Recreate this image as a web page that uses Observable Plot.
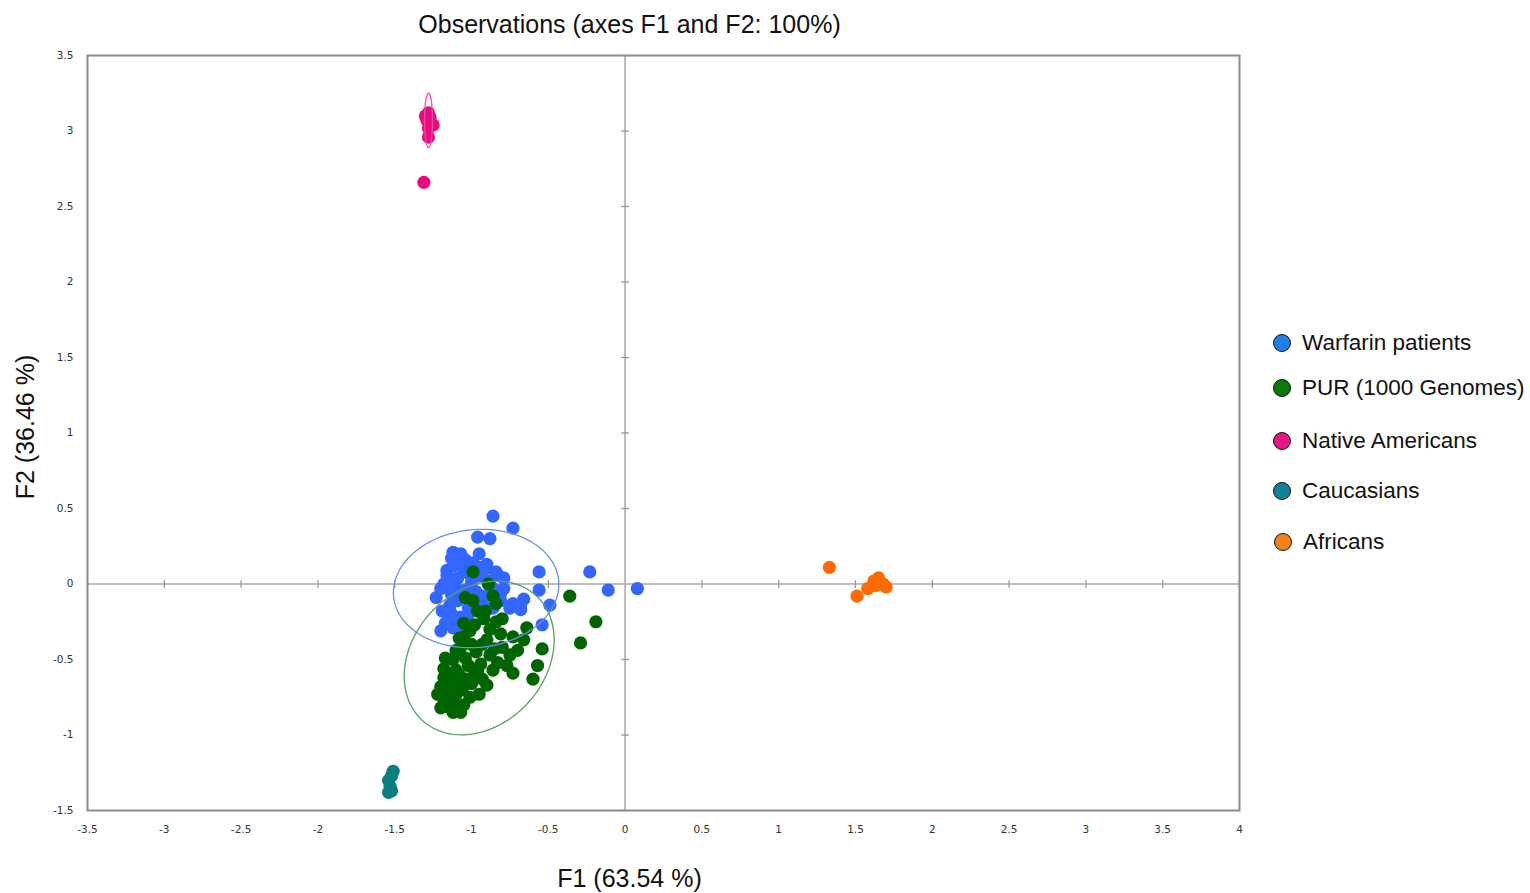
<!DOCTYPE html>
<html><head><meta charset="utf-8">
<script src="https://cdn.jsdelivr.net/npm/d3@7"></script>
<script src="https://cdn.jsdelivr.net/npm/@observablehq/plot@0.6"></script>
<style>
body{margin:0;background:#fff;font-family:"Liberation Sans",Arial,sans-serif;}
#wrap{position:relative;width:1530px;height:893px;overflow:hidden;}
#chart{position:absolute;left:0;top:0;}
.item{position:absolute;display:flex;align-items:center;white-space:nowrap;font-size:22.5px;color:#111;line-height:1;}
.sw{width:18px;height:18px;border-radius:50%;border:1.6px solid #111;box-sizing:border-box;margin-right:11px;flex:none;}
</style>
</head><body>
<div id="wrap"><div id="chart"></div><div id="legend"></div></div>
<script>
// ---- data ----
const groups = ["Warfarin patients","PUR (1000 Genomes)","Native Americans","Caucasians","Africans"];
const pointColors = ["#3366ff","#006400","#ea0a80","#0b7f80","#ff6a00"];
const legendColors = ["#1f7fe6","#0a7a0a","#e3197f","#13809a","#f7801e"];

const warfarin = [
  [-0.86,0.45],[-0.73,0.37],[-0.96,0.31],[-0.88,0.30],[-1.12,0.21],[-1.07,0.20],[-0.95,0.20],
  [-0.56,0.08],[-0.23,0.08],[-0.11,-0.04],[0.08,-0.03],[-0.56,-0.04],[-0.49,-0.14],[-0.54,-0.27],
  [-0.66,-0.10],[-1.23,-0.09],[-1.20,-0.31],[-0.79,-0.03],[-0.79,0.04],
  [-0.99,0.14],[-1.12,0.12],[-1.16,0.06],[-1.09,0.04],[-0.91,0.10],[-0.83,0.06],[-1.16,-0.01],
  [-0.81,-0.06],[-0.68,-0.14],[-1.14,-0.14],[-1.16,0.09],[-1.18,0.00],[-1.14,-0.18],[-1.17,-0.26],
  [-1.09,-0.11],[-0.94,0.11],[-0.90,0.13],[-0.84,0.08],[-0.88,0.02],[-0.73,-0.13],[-0.68,-0.17],
  [-0.75,-0.16],[-0.81,-0.11],[-1.07,-0.22],[-1.12,-0.29],[-1.19,-0.18],[-1.04,0.16],[-1.02,0.07],
  [-1.00,0.01],[-0.97,-0.05],[-1.04,-0.04],[-1.10,-0.03],[-0.92,-0.08],[-0.86,-0.16],[-1.02,-0.16],
  [-1.05,-0.27],[-1.13,0.17],[-1.08,0.13],[-1.05,0.10],[-1.12,0.02],[-1.06,-0.08],[-1.13,-0.07],
  [-1.20,-0.03],[-1.10,-0.22],[-1.02,-0.20],[-0.97,0.05],[-0.93,0.05],[-0.86,-0.03],[-0.92,-0.14],
  [-1.15,-0.25],[-1.08,-0.30]
];
const pur = [
  [-0.99,0.08],[-0.89,0.00],[-0.86,-0.08],[-0.84,-0.13],[-1.04,-0.09],[-0.99,-0.11],[-0.96,-0.18],
  [-0.36,-0.08],[-0.19,-0.25],[-0.29,-0.39],[-0.80,-0.23],[-0.88,-0.30],[-1.05,-0.26],[-0.64,-0.29],
  [-0.54,-0.43],[-0.57,-0.54],[-0.60,-0.63],[-0.73,-0.59],[-0.77,-0.54],[-0.66,-0.37],[-0.73,-0.35],
  [-0.80,-0.42],[-0.90,-0.37],[-0.94,-0.53],[-0.86,-0.57],[-1.05,-0.35],[-1.07,-0.42],[-1.17,-0.49],
  [-1.18,-0.56],[-1.10,-0.57],[-1.03,-0.63],[-1.22,-0.73],[-1.16,-0.69],[-1.20,-0.82],[-1.12,-0.85],
  [-1.07,-0.85],[-1.01,-0.75],[-0.95,-0.73],[-1.10,-0.73],[-1.09,-0.64],[-1.04,-0.49],[-0.97,-0.45],
  [-1.14,-0.82],[-1.16,-0.77],[-0.96,-0.57],[-0.91,-0.18],[-1.01,-0.31],[-1.10,-0.44],[-1.02,-0.54],
  [-1.06,-0.70],[-0.88,-0.47],[-0.81,-0.33],
  [-1.18,-0.62],[-1.14,-0.60],[-1.20,-0.68],[-1.13,-0.66],[-1.08,-0.60],[-1.00,-0.66],[-0.98,-0.60],
  [-1.12,-0.78],[-1.05,-0.80],[-1.18,-0.77],[-0.93,-0.63],[-0.90,-0.67],[-1.00,-0.40],[-0.93,-0.40],
  [-0.85,-0.43],[-0.83,-0.52],[-0.75,-0.47],[-0.70,-0.44],[-0.98,-0.27],[-0.92,-0.23],[-0.84,-0.25],
  [-1.08,-0.36],[-1.12,-0.50]
];
const nativeAmericans = [
  [-1.31,2.66],[-1.28,3.12],[-1.30,3.10],[-1.29,3.07],[-1.25,3.04],[-1.28,3.02],[-1.28,2.96],[-1.27,3.09]
];
const caucasians = [
  [-1.51,-1.24],[-1.52,-1.27],[-1.54,-1.30],[-1.53,-1.34],[-1.52,-1.37],[-1.54,-1.38]
];
const africans = [
  [1.33,0.11],[1.51,-0.08],[1.63,-0.01],[1.68,0.00],[1.62,0.02],[1.70,-0.02],[1.58,-0.03],[1.65,0.04]
];
// confidence ellipses: centre, semi-axes (F1/F2 units), rotation (degrees)
const ellipses = [
  {group:"Warfarin patients", cx:-0.97, cy:-0.03, rx:0.54, ry:0.39, angle:6, color:"#6d8ff2"},
  {group:"PUR (1000 Genomes)", cx:-0.95, cy:-0.49, rx:0.555, ry:0.435, angle:50, color:"#5a9f66"},
  {group:"Native Americans", cx:-1.28, cy:3.07, rx:0.18, ry:0.026, angle:90, color:"#ec4f9a"}
];
const xTicks = [-3.5,-3,-2.5,-2,-1.5,-1,-0.5,0,0.5,1,1.5,2,2.5,3,3.5,4];
const yTicks = [-1.5,-1,-0.5,0,0.5,1,1.5,2,2.5,3,3.5];
const title = "Observations (axes F1 and F2: 100%)";
const xLabel = "F1 (63.54 %)";
const yLabel = "F2 (36.46 %)";

// ---- build tables ----
const seriesList = [warfarin, pur, nativeAmericans, caucasians, africans];
const points = seriesList.flatMap((s,i) => s.map(([f1,f2]) => ({group:groups[i], f1, f2})));
const ellipsePts = ellipses.flatMap(e => {
  const a = e.angle*Math.PI/180;
  return d3.range(0, 121).map(k => {
    const t = 2*Math.PI*k/120;
    return {group:e.group, color:e.color,
      f1: e.cx + e.rx*Math.cos(t)*Math.cos(a) - e.ry*Math.sin(t)*Math.sin(a),
      f2: e.cy + e.rx*Math.cos(t)*Math.sin(a) + e.ry*Math.sin(t)*Math.cos(a)};
  });
});
const vTick = {draw(ctx,size){const r=Math.sqrt(size)/2; ctx.moveTo(0,-r); ctx.lineTo(0,r);}};
const hTick = {draw(ctx,size){const r=Math.sqrt(size)/2; ctx.moveTo(-r,0); ctx.lineTo(r,0);}};

const chart = Plot.plot({
  width:1530, height:893,
  marginLeft:87, marginRight:291, marginTop:55, marginBottom:83,
  x:{domain:[-3.5,4], label:null},
  y:{domain:[-1.5,3.5], label:null},
  color:{domain:groups, range:pointColors},
  style:{fontFamily:"'Liberation Sans', Arial, sans-serif", background:"#fff", overflow:"visible"},
  marks:[
    Plot.ruleX([0], {stroke:"#aaa", strokeWidth:1.6}),
    Plot.ruleY([0], {stroke:"#aaa", strokeWidth:1.6}),
    Plot.dot(xTicks.filter(v => v !== 0), {x:d=>d, y:()=>0, symbol:vTick, r:4.5, stroke:"#999", strokeWidth:1.3}),
    Plot.dot(yTicks.filter(v => v !== 0), {x:()=>0, y:d=>d, symbol:hTick, r:4.5, stroke:"#999", strokeWidth:1.3}),
    Plot.axisX(xTicks, {tickSize:0, tickPadding:15, tickFormat:d=>String(d), fontSize:10.5, fill:"#333", fontFamily:"'DejaVu Sans', sans-serif", label:null}),
    Plot.axisY(yTicks, {tickSize:0, tickPadding:14, tickFormat:d=>String(d), fontSize:10.5, fill:"#333", fontFamily:"'DejaVu Sans', sans-serif", label:null}),
    Plot.dot(points, {x:"f1", y:"f2", fill:"group", r:6.6}),
    Plot.line(ellipsePts, {x:"f1", y:"f2", z:"group", stroke:"color", strokeWidth:1.3, curve:"linear"}),
    Plot.frame({stroke:"#8c8c8c", strokeWidth:2}),
    Plot.text([title], {frameAnchor:"top", lineAnchor:"middle", textAnchor:"middle", dx:-34, dy:-31, fontSize:25, fill:"#111"}),
    Plot.text([xLabel], {frameAnchor:"bottom", lineAnchor:"middle", textAnchor:"middle", dx:-34, dy:68, fontSize:25, fill:"#111"}),
    Plot.text([yLabel], {frameAnchor:"left", lineAnchor:"middle", textAnchor:"middle", dx:-62, dy:-6, rotate:-90, fontSize:25, fill:"#111"})
  ]
});
document.getElementById("chart").appendChild(chart);

// ---- legend (HTML, right of the plot) ----
const legendCenters = [343, 388, 441, 491, 542];
const legendLeft = [1273, 1273, 1273, 1273, 1274];
const legend = document.getElementById("legend");
groups.forEach((g,i) => {
  const it = document.createElement("div");
  it.className = "item";
  it.style.left = legendLeft[i] + "px";
  it.style.top = (legendCenters[i] - 11) + "px";
  it.style.height = "22px";
  const sw = document.createElement("span");
  sw.className = "sw";
  sw.style.background = legendColors[i];
  const tx = document.createElement("span");
  tx.textContent = g;
  it.appendChild(sw); it.appendChild(tx);
  legend.appendChild(it);
});
</script>
</body></html>
